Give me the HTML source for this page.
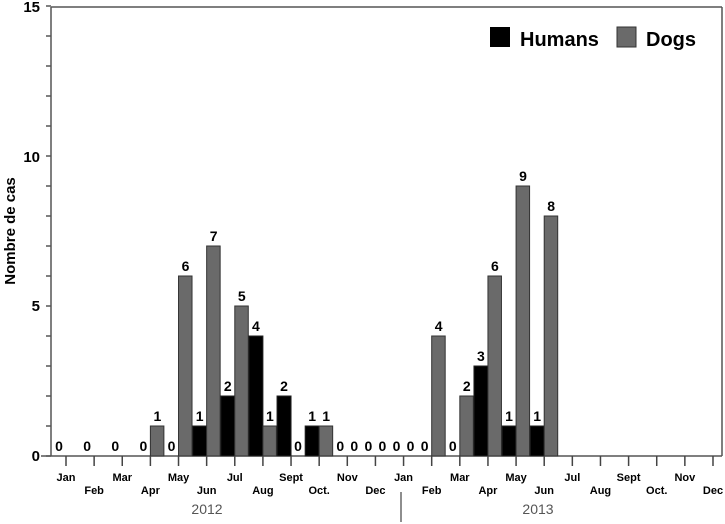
<!DOCTYPE html>
<html><head><meta charset="utf-8"><style>
body{margin:0;background:#fff;}
svg{display:block;font-family:"Liberation Sans",Arial,sans-serif;}
</style></head><body>
<svg width="725" height="524" viewBox="0 0 725 524" xmlns="http://www.w3.org/2000/svg">
<g stroke="#555" stroke-width="1.5" fill="none">
<line x1="51" y1="7" x2="722" y2="7"/>
<line x1="722" y1="7" x2="722" y2="456"/>
<line x1="51" y1="7" x2="51" y2="456"/>
<line x1="41" y1="456" x2="722" y2="456"/>
</g>
<g stroke="#555" stroke-width="1.5" id="yt"></g>
<g id="bars"></g>
<g id="xt" stroke="#444" stroke-width="1.5"></g>
<g id="labels" font-weight="bold" font-size="11" fill="#000" text-anchor="middle"></g>
<g font-weight="bold" font-size="15" fill="#000" text-anchor="end">
<text x="40" y="12">15</text><text x="40" y="162">10</text><text x="40" y="311">5</text><text x="40" y="461">0</text>
</g>
<text transform="translate(15,231) rotate(-90)" text-anchor="middle" font-weight="bold" font-size="15">Nombre de cas</text>
<rect x="490" y="27" width="20" height="20" fill="#000"/>
<text x="520" y="46" font-weight="bold" font-size="20">Humans</text>
<rect x="617" y="27" width="19" height="20" fill="#6a6a6a" stroke="#333"/>
<text x="646" y="46" font-weight="bold" font-size="20">Dogs</text>
<text x="207" y="514" text-anchor="middle" font-size="14" fill="#555">2012</text>
<text x="538" y="514" text-anchor="middle" font-size="14" fill="#555">2013</text>
<line x1="401" y1="492" x2="401" y2="522" stroke="#444" stroke-width="1.2"/>
<script>
var ns="http://www.w3.org/2000/svg";
function el(p,t,a,txt){var e=document.createElementNS(ns,t);for(var k in a)e.setAttribute(k,a[k]);if(txt!==undefined)e.textContent=txt;document.getElementById(p).appendChild(e);}
for(var v=0;v<=15;v++){var y=456-30*v;el("yt","line",{x1:46,y1:y,x2:51,y2:y});}
var months=["Jan","Feb","Mar","Apr","May","Jun","Jul","Aug","Sept","Oct.","Nov","Dec"];
for(var k=0;k<24;k++){var x=66+28.13*k;el("xt","line",{x1:x,y1:456,x2:x,y2:466});
el("labels","text",{x:x,y:(k%2==0?481:494)},months[k%12]);}
// [k, humans, dogs] ; null = not shown
var d=[[0,0,null],[1,0,null],[2,0,null],[3,0,1],[4,0,6],[5,1,7],[6,2,5],[7,4,1],[8,2,0],[9,1,1],[10,0,0],[11,0,0],
[12,0,0],[13,0,4],[14,0,2],[15,3,6],[16,1,9],[17,1,8]];
d.forEach(function(r){var t=66+28.13*r[0];
 var hx=t-14,dx=t;
 if(r[1]!==null){if(r[1]>0)el("bars","rect",{x:hx,y:456-30*r[1],width:14,height:30*r[1],fill:"#000",stroke:"#222","stroke-width":1});
  el("bars","text",{x:hx+7,y:451-30*r[1],"text-anchor":"middle","font-weight":"bold","font-size":14},r[1]);}
 if(r[2]!==null){if(r[2]>0)el("bars","rect",{x:dx,y:456-30*r[2],width:13.5,height:30*r[2],fill:"#6a6a6a",stroke:"#333","stroke-width":1});
  el("bars","text",{x:dx+7,y:451-30*r[2],"text-anchor":"middle","font-weight":"bold","font-size":14},r[2]);}
});
</script>
</svg>
</body></html>
